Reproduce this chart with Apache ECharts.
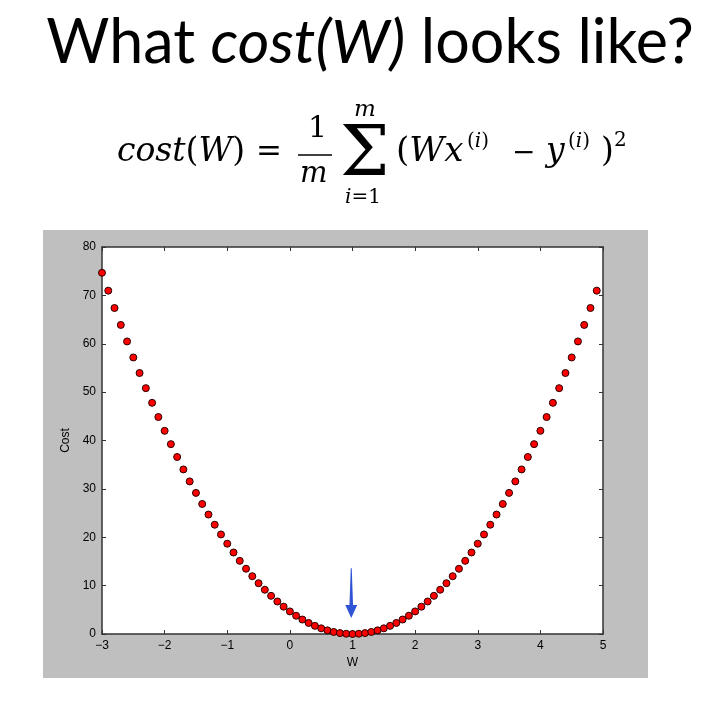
<!DOCTYPE html>
<html>
<head>
<meta charset="utf-8">
<script src="https://cdn.jsdelivr.net/npm/echarts@6/dist/echarts.min.js"></script>
<style>
  html, body { margin: 0; padding: 0; background: #ffffff; }
  #chart { width: 720px; height: 711px; }
</style>
</head>
<body>
<div id="chart"></div>
<script>
// Weight values sampled along the horizontal axis
const weights = [
  -3.0, -2.9, -2.8, -2.7, -2.6, -2.5, -2.4, -2.3, -2.2, -2.1,
  -2.0, -1.9, -1.8, -1.7, -1.6, -1.5, -1.4, -1.3, -1.2, -1.1,
  -1.0, -0.9, -0.8, -0.7, -0.6, -0.5, -0.4, -0.3, -0.2, -0.1,
   0.0,  0.1,  0.2,  0.3,  0.4,  0.5,  0.6,  0.7,  0.8,  0.9,
   1.0,  1.1,  1.2,  1.3,  1.4,  1.5,  1.6,  1.7,  1.8,  1.9,
   2.0,  2.1,  2.2,  2.3,  2.4,  2.5,  2.6,  2.7,  2.8,  2.9,
   3.0,  3.1,  3.2,  3.3,  3.4,  3.5,  3.6,  3.7,  3.8,  3.9,
   4.0,  4.1,  4.2,  4.3,  4.4,  4.5,  4.6,  4.7,  4.8,  4.9
];

// Cost at each weight
const costs = [
  74.67, 70.98, 67.39, 63.89, 60.48, 57.17, 53.95, 50.82, 47.79, 44.85,
  42.00, 39.25, 36.59, 34.02, 31.55, 29.17, 26.88, 24.69, 22.59, 20.58,
  18.67, 16.85, 15.12, 13.49, 11.95, 10.50,  9.15,  7.89,  6.72,  5.65,
   4.67,  3.78,  2.99,  2.29,  1.68,  1.17,  0.75,  0.42,  0.19,  0.05,
   0.00,  0.05,  0.19,  0.42,  0.75,  1.17,  1.68,  2.29,  2.99,  3.78,
   4.67,  5.65,  6.72,  7.89,  9.15, 10.50, 11.95, 13.49, 15.12, 16.85,
  18.67, 20.58, 22.59, 24.69, 26.88, 29.17, 31.55, 34.02, 36.59, 39.25,
  42.00, 44.85, 47.79, 50.82, 53.95, 57.17, 60.48, 63.89, 67.39, 70.98
];

// Minimum marker: [W, top of arrow, tip of arrow]
const minArrow = [[0.98, 13.6, 3.3]];

const points = weights.map((w, i) => [w, costs[i]]);

const chart = echarts.init(document.getElementById('chart'), null, { renderer: 'canvas' });

const axisFont = { fontFamily: 'Liberation Sans, Arial, sans-serif', fontSize: 12, color: '#000' };
const lineStyle = { color: '#333', width: 1.5 };
const tickStyle = { show: true, inside: true, length: 4, lineStyle: { color: '#333' } };

const SERIF = '"DejaVu Serif", serif';

// a run of formula text placed by its baseline; {i|..} marks italic pieces
function mathRun(text, x, baseline, size) {
  return {
    type: 'text', x: x, y: baseline - 0.36 * size,
    style: {
      text: text,
      font: size + 'px ' + SERIF,
      fill: '#000',
      verticalAlign: 'middle',
      rich: {
        i: { fontStyle: 'italic', fontSize: size, fontFamily: 'DejaVu Serif', fill: '#000' },
        u: { fontSize: size, fontFamily: 'DejaVu Serif', fill: '#000' }
      }
    }
  };
}

const formula = [
  mathRun('{i|cost}{u|(}{i|W}{u|)}', 117, 164, 33),
  mathRun('=', 256, 164, 31),
  mathRun('1', 308, 140, 30),
  { type: 'line', shape: { x1: 298, y1: 155, x2: 332, y2: 155 }, style: { stroke: '#000', lineWidth: 1.3 } },
  mathRun('{i|m}', 300, 185, 29),
  mathRun('\u03A3', 340, 182, 70),
  mathRun('{i|m}', 354, 118, 23),
  mathRun('{i|i}{u|=1}', 345, 205, 20),
  mathRun('{u|(}{i|W}{i|x}', 396, 164, 34),
  mathRun('{u|(}{i|i}{u|)}', 467, 149, 20),
  mathRun('\u2212', 512, 164, 28),
  mathRun('{i|y}', 546, 164, 33),
  mathRun('{u|(}{i|i}{u|)}', 568, 149, 20),
  mathRun(')', 601, 164, 33),
  mathRun('2', 614, 148, 20)
];

chart.setOption({
  backgroundColor: '#ffffff',
  animation: false,
  graphic: [
    // grey figure backdrop
    { type: 'rect', z: -10, shape: { x: 43, y: 230, width: 605, height: 448 }, style: { fill: '#bfbfbf' } },
    // plot area background
    { type: 'rect', z: -5, shape: { x: 102, y: 247, width: 501, height: 387 }, style: { fill: '#ffffff' } },
    // slide heading
    {
      type: 'text', x: 370, y: 13,
      style: {
        text: 'What {i|cost(W)} looks like?',
        font: '400 61px "Lato", "Noto Sans", sans-serif',
        fill: '#000',
        align: 'center',
        rich: { i: { fontStyle: 'italic', fontSize: 61, fontFamily: 'Lato', fill: '#000' } }
      }
    }
  ].concat(formula),
  grid: { left: 102, top: 247, right: 117, bottom: 77, containLabel: false },
  xAxis: [
    {
      type: 'value', min: -3, max: 5, interval: 1,
      name: 'W', nameLocation: 'middle', nameGap: 23,
      nameTextStyle: axisFont,
      axisLine: { show: true, onZero: false, lineStyle },
      axisTick: tickStyle,
      axisLabel: Object.assign({ margin: 6, formatter: v => (v < 0 ? '\u2212' + Math.abs(v) : String(v)) }, axisFont),
      splitLine: { show: false }
    },
    {
      type: 'value', min: -3, max: 5, interval: 1, position: 'top',
      axisLine: { show: true, onZero: false, lineStyle },
      axisTick: tickStyle,
      axisLabel: { show: false }, splitLine: { show: false }
    }
  ],
  yAxis: [
    {
      type: 'value', min: 0, max: 80, interval: 10,
      name: 'Cost', nameLocation: 'middle', nameGap: 25, nameRotate: 90,
      nameTextStyle: axisFont,
      axisLine: { show: true, onZero: false, lineStyle },
      axisTick: tickStyle,
      axisLabel: Object.assign({ margin: 6 }, axisFont),
      splitLine: { show: false }
    },
    {
      type: 'value', min: 0, max: 80, interval: 10, position: 'right',
      axisLine: { show: true, onZero: false, lineStyle },
      axisTick: tickStyle,
      axisLabel: { show: false }, splitLine: { show: false }
    }
  ],
  series: [
    {
      type: 'scatter',
      data: points,
      symbol: 'circle',
      symbolSize: 7,
      itemStyle: { color: '#ff0000', borderColor: '#2a0000', borderWidth: 1, opacity: 1 },
      z: 3
    },
    {
      type: 'custom',
      data: minArrow,
      z: 4,
      renderItem: (params, api) => {
        const top = api.coord([api.value(0), api.value(1)]);
        const tip = api.coord([api.value(0), api.value(2)]);
        const x = top[0];
        const headY = tip[1] - 13;
        return {
          type: 'polygon',
          shape: {
            points: [
              [x - 0.5, top[1]], [x + 0.5, top[1]],
              [x + 1.8, headY], [x + 6, headY],
              [x, tip[1]],
              [x - 6, headY], [x - 1.8, headY]
            ]
          },
          style: { fill: '#2f55d4' }
        };
      }
    }
  ]
});
</script>
</body>
</html>
